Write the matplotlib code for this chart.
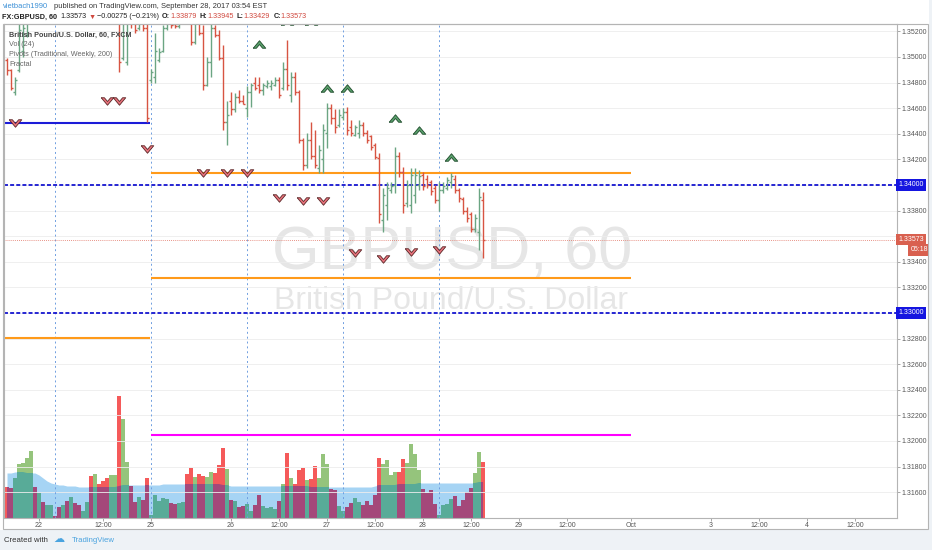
import matplotlib
matplotlib.use("Agg")
import matplotlib.pyplot as plt
import matplotlib.transforms as mtransforms
from matplotlib.patches import Rectangle
from matplotlib.path import Path
import numpy as np

plt.rcParams['font.family'] = ['Liberation Sans', 'DejaVu Sans']

# GBPUSD 60 min bars, bar 0 = first bar of the Sep 25 session
first_bar = -36
opens = [1.3498, 1.3490, 1.3473, 1.3490, 1.3505, 1.3517, 1.3533, 1.3556, 1.3548, 1.3564,
         1.3556, 1.3568, 1.3572, 1.3568, 1.3560, 1.3568, 1.3564, 1.3576, 1.3568, 1.3560,
         1.3564, 1.3568, 1.3545, 1.3552, 1.3541, 1.3535, 1.3530, 1.3541, 1.3548, 1.3499,
         1.3496, 1.3535, 1.3529, 1.3523, 1.3530, 1.3523, 1.3482, 1.3484, 1.3498, 1.3505,
         1.3523, 1.3529, 1.3526, 1.3524, 1.3532, 1.3541, 1.3533, 1.3512, 1.3529, 1.3519,
         1.3478, 1.3496, 1.3523, 1.3517, 1.3499, 1.3449, 1.3466, 1.3459, 1.3469, 1.3466,
         1.3460, 1.3473, 1.3480, 1.3478, 1.3474, 1.3477, 1.3477, 1.3478, 1.3482, 1.3476,
         1.3491, 1.3470, 1.3484, 1.3473, 1.3435, 1.3416, 1.3435, 1.3423, 1.3413, 1.3420,
         1.3441, 1.3460, 1.3452, 1.3447, 1.3453, 1.3457, 1.3445, 1.3439, 1.3441, 1.3447,
         1.3441, 1.3438, 1.3431, 1.3421, 1.3373, 1.3384, 1.3396, 1.3400, 1.3423, 1.3410,
         1.3386, 1.3384, 1.3392, 1.3400, 1.3408, 1.3405, 1.3402, 1.3398, 1.3388, 1.3396,
         1.3398, 1.3402, 1.3405, 1.3396, 1.3389, 1.3380, 1.3377, 1.3366, 1.3363, 1.33879]
highs = [1.3499, 1.3491, 1.3484, 1.3529, 1.3529, 1.3537, 1.3560, 1.3564, 1.3568, 1.3568,
         1.3572, 1.3576, 1.3574, 1.3570, 1.3572, 1.3572, 1.3580, 1.3580, 1.3570, 1.3568,
         1.3572, 1.3572, 1.3560, 1.3556, 1.3545, 1.3538, 1.3545, 1.3552, 1.3552, 1.3537,
         1.3541, 1.3538, 1.3533, 1.3535, 1.3534, 1.3526, 1.3491, 1.3519, 1.3507, 1.3525,
         1.3533, 1.3533, 1.3529, 1.3535, 1.3545, 1.3545, 1.3537, 1.3533, 1.3533, 1.3525,
         1.3500, 1.3533, 1.3525, 1.3521, 1.3509, 1.3466, 1.3473, 1.3472, 1.3474, 1.3470,
         1.3477, 1.3480, 1.3484, 1.3484, 1.3480, 1.3482, 1.3482, 1.3484, 1.3484, 1.3496,
         1.3513, 1.3488, 1.3488, 1.3474, 1.3437, 1.3441, 1.3449, 1.3443, 1.3431, 1.3448,
         1.3464, 1.3463, 1.3459, 1.3459, 1.3460, 1.3461, 1.3451, 1.3447, 1.3451, 1.3449,
         1.3443, 1.3439, 1.3433, 1.3425, 1.3398, 1.3402, 1.3402, 1.3430, 1.3426, 1.3414,
         1.3404, 1.3413, 1.3413, 1.3412, 1.3410, 1.3408, 1.3404, 1.3400, 1.3402, 1.3402,
         1.3406, 1.3409, 1.3408, 1.3398, 1.3391, 1.3383, 1.3379, 1.3377, 1.3398, 1.33945]
lows = [1.3486, 1.3474, 1.3470, 1.3488, 1.3500, 1.3516, 1.3529, 1.3545, 1.3545, 1.3552,
        1.3554, 1.3566, 1.3564, 1.3556, 1.3559, 1.3560, 1.3562, 1.3564, 1.3556, 1.3559,
        1.3562, 1.3541, 1.3538, 1.3537, 1.3533, 1.3529, 1.3527, 1.3537, 1.3488, 1.3498,
        1.3494, 1.3523, 1.3519, 1.3521, 1.3520, 1.3449, 1.3480, 1.3480, 1.3496, 1.3504,
        1.3521, 1.3523, 1.3523, 1.3523, 1.3529, 1.3527, 1.3509, 1.3510, 1.3517, 1.3474,
        1.3477, 1.3484, 1.3516, 1.3498, 1.3443, 1.3431, 1.3455, 1.3457, 1.3464, 1.3463,
        1.3453, 1.3461, 1.3474, 1.3472, 1.3470, 1.3476, 1.3474, 1.3477, 1.3468, 1.3474,
        1.3474, 1.3465, 1.3470, 1.3433, 1.3412, 1.3413, 1.3420, 1.3413, 1.3409, 1.3409,
        1.3429, 1.3448, 1.3441, 1.3445, 1.3451, 1.3439, 1.3438, 1.3438, 1.3437, 1.3438,
        1.3433, 1.3427, 1.3420, 1.3370, 1.3363, 1.3373, 1.3394, 1.3394, 1.3406, 1.3378,
        1.3383, 1.3378, 1.3386, 1.3396, 1.3396, 1.3398, 1.3392, 1.3386, 1.3380, 1.3394,
        1.3396, 1.3398, 1.3394, 1.3387, 1.3377, 1.3371, 1.3363, 1.3363, 1.3349, 1.33429]
closes = [1.3490, 1.3476, 1.3482, 1.3521, 1.3523, 1.3533, 1.3556, 1.3548, 1.3564, 1.3556,
          1.3568, 1.3572, 1.3568, 1.3560, 1.3568, 1.3564, 1.3576, 1.3568, 1.3560, 1.3564,
          1.3568, 1.3545, 1.3552, 1.3541, 1.3535, 1.3530, 1.3541, 1.3548, 1.3496, 1.3529,
          1.3535, 1.3527, 1.3521, 1.3530, 1.3523, 1.3452, 1.3488, 1.3505, 1.3504, 1.3523,
          1.3529, 1.3525, 1.3524, 1.3532, 1.3541, 1.3533, 1.3512, 1.3529, 1.3519, 1.3478,
          1.3496, 1.3523, 1.3517, 1.3499, 1.3449, 1.3455, 1.3459, 1.3469, 1.3466, 1.3463,
          1.3473, 1.3478, 1.3476, 1.3474, 1.3478, 1.3480, 1.3480, 1.3482, 1.3470, 1.3491,
          1.3478, 1.3484, 1.3473, 1.3435, 1.3416, 1.3435, 1.3423, 1.3416, 1.3427, 1.3443,
          1.3460, 1.3452, 1.3445, 1.3455, 1.3457, 1.3443, 1.3441, 1.3445, 1.3447, 1.3441,
          1.3435, 1.3430, 1.3422, 1.3377, 1.3392, 1.3398, 1.3399, 1.3423, 1.3410, 1.3384,
          1.3400, 1.3408, 1.3408, 1.3407, 1.3399, 1.3400, 1.3395, 1.3388, 1.3396, 1.3399,
          1.3404, 1.3407, 1.3396, 1.3390, 1.3380, 1.3374, 1.3366, 1.3374, 1.3391, 1.33573]
volumes = [31, 30, 40, 54, 55, 60, 67, 31, 25, 16,
           13, 13, 2, 11, 13, 17, 21, 15, 13, 7,
           16, 42, 44, 34, 37, 40, 43, 43, 122, 99,
           56, 32, 16, 21, 18, 40, 3, 23, 17, 20,
           19, 15, 14, 15, 16, 44, 50, 41, 44, 42,
           41, 46, 45, 53, 70, 49, 18, 17, 11, 12,
           14, 7, 13, 23, 12, 10, 11, 9, 17, 34,
           65, 40, 34, 48, 50, 38, 39, 52, 40, 64,
           54, 29, 28, 12, 7, 11, 15, 20, 16, 13,
           17, 13, 23, 60, 54, 58, 43, 46, 46, 59,
           55, 74, 64, 48, 29, 25, 28, 14, 3, 13,
           14, 19, 22, 12, 18, 26, 30, 45, 66, 56]
vol_ma = [45, 45, 46, 46, 46, 45, 45, 45, 43, 40,
          37, 35, 34, 33, 33, 32, 32, 32, 31, 31,
          31, 31, 31, 31, 31, 31, 31, 31, 32, 33,
          33, 33, 33, 33, 33, 33, 33, 33, 33, 34,
          34, 34, 34, 34, 34, 34, 34, 34, 34, 34,
          34, 34, 34, 34, 33, 33, 32, 32, 32, 32,
          32, 32, 32, 32, 32, 32, 32, 32, 32, 32,
          32, 32, 32, 32, 32, 32, 31, 31, 31, 31,
          31, 31, 31, 31, 31, 31, 31, 31, 31, 31,
          31, 31, 32, 33, 33, 33, 33, 33, 34, 34,
          34, 34, 34, 35, 35, 35, 35, 35, 35, 35,
          35, 35, 35, 35, 35, 35, 35, 35, 36, 36]

# weekly pivots
prev_week_levels = [1.34484, 1.32805]
prev_week_colors = ['#1c1cd8', '#ff9a1a']
this_week_levels = [1.34094, 1.33273, 1.32047]
this_week_colors = ['#ff9a1a', '#ff9a1a', '#ff00ff']
week_start, week_end = 0, 120
round_levels = [1.34, 1.33]
last_price = 1.33573
countdown = '05:18'

# Bill Williams fractals
frac_dn_bar = [-34, -11, -8, -1, 13, 19, 24, 32, 38, 43, 51, 58, 65, 72]
frac_dn_px = [1.34484, 1.34656, 1.34656, 1.34281, 1.34094, 1.34094, 1.34094,
              1.33898, 1.33875, 1.33875, 1.33469, 1.33422, 1.33477, 1.33492]
frac_up_bar = [27, 34, 40, 44, 49, 61, 67, 75]
frac_up_px = [1.35102, 1.3528, 1.3528, 1.34758, 1.34758, 1.34523, 1.34430, 1.34219]

session_breaks = [-24, 0, 24, 48, 72]
tick_pos = [-28, -12, 0, 20, 32, 44, 56, 68, 80, 92, 104, 120, 140, 152, 164, 176]
tick_lbl = ['22', '12:00', '25', '26', '12:00', '27', '12:00', '28', '12:00',
            '29', '12:00', 'Oct', '3', '12:00', '4', '12:00']

W, H = 932, 550
def fp(x, y):
    # pixel -> figure fraction
    return x / W, 1 - y / H

fig = plt.figure(figsize=(9.32, 5.5), dpi=100, facecolor='white')
fig.patches.append(Rectangle((0, 0), 1, 20 / H, transform=fig.transFigure,
                             fc='#eef2f6', ec='none', zorder=0))
fig.patches.append(Rectangle(fp(929, 550), 3 / W, 1, transform=fig.transFigure,
                             fc='#eef2f6', ec='none', zorder=0))
fig.patches.append(Rectangle(fp(3, 529), 925 / W, 505 / H, transform=fig.transFigure,
                             fill=False, ec='#b4b4b4', lw=0.8, zorder=1))

rect = [4 / W, 1 - 518 / H, 893 / W, 494 / H]
ax_v = fig.add_axes(rect)
ax = fig.add_axes(rect, sharex=ax_v)
ax.patch.set_alpha(0)

x = np.arange(first_bar, first_bar + len(opens))
o, h, l, c = map(np.array, (opens, highs, lows, closes))
up = c >= o

# volume pane with 24-bar average drawn behind
area = ax_v.fill_between(x, 0, vol_ma, color='#a6d4f4', lw=0, zorder=1)
ax_v.bar(x, volumes, width=0.8, color=np.where(up, '#95c47c', '#f55a5a'), zorder=2)
dark = ax_v.bar(x, volumes, width=0.8, color=np.where(up, '#58ab98', '#a4487a'), zorder=3)
clip = area.get_paths()[0]
for b in dark:
    b.set_clip_path(clip, ax_v.transData)
ax_v.set_ylim(0, 494)
ax_v.axis('off')

# watermark
ax.text(0.502, 0.535, 'GBPUSD, 60', transform=ax.transAxes, ha='center', va='center',
        fontsize=44, color='#e6e6e6', zorder=0)
ax.text(0.5, 0.44, 'British Pound/U.S. Dollar', transform=ax.transAxes, ha='center',
        va='center', fontsize=23, color='#e6e6e6', zorder=0)

# session breaks
for s in session_breaks:
    ax.axvline(s, color='#6f9ee0', lw=0.7, ls=(0, (2, 3)), zorder=1)

# pivots
for lv, col in zip(prev_week_levels, prev_week_colors):
    ax.hlines(lv, -40, week_start - 0.3, color=col, lw=1.5, zorder=2)
for lv, col in zip(this_week_levels, this_week_colors):
    ax.hlines(lv, week_start, week_end, color=col, lw=1.5, zorder=2)
for lv in round_levels:
    ax.axhline(lv, color='#1515d0', lw=1.3, ls=(0, (2.2, 1.2)), zorder=2)
ax.axhline(last_price, color='#e07060', lw=0.6, ls=(0, (1, 1.5)), zorder=2)

# OHLC bars
cols = np.where(up, '#6ba583', '#d75442')
ax.vlines(x, l, h, colors=cols, lw=1.0, zorder=3)
ax.hlines(o, x - 0.45, x, colors=cols, lw=1.0, zorder=3)
ax.hlines(c, x, x + 0.45, colors=cols, lw=1.0, zorder=3)

# fractal chevrons
dn = Path([(-1, 0.6), (0, -0.6), (1, 0.6), (0.5, 0.6), (0, 0.0), (-0.5, 0.6), (-1, 0.6)])
upm = Path([(-1, -0.6), (0, 0.6), (1, -0.6), (0.5, -0.6), (0, 0.0), (-0.5, -0.6), (-1, -0.6)])
ax.plot(frac_dn_bar, frac_dn_px, ls='none', marker=dn, ms=9, mfc='#e8727c', mec='#5a2626',
        mew=0.6, zorder=4)
ax.plot(frac_up_bar, frac_up_px, ls='none', marker=upm, ms=9, mfc='#5aa06c', mec='#1d4a2a',
        mew=0.6, zorder=4)

ax.set_xlim(-36.75, 186.5)
ax.set_ylim(1.313984, 1.352578)
ax.yaxis.tick_right()
yt = np.arange(1.316, 1.3525, 0.002)
# labels hidden under the price boxes are left blank
hidden = round_levels + [1.336]
ylbl = ['' if any(abs(v - hv) < 1e-6 for hv in hidden) else '%.5f' % v for v in yt]
ax.set_yticks(yt, ylbl)
ax.set_xticks(tick_pos, tick_lbl)
ax.tick_params(axis='y', length=2, width=0.6, color='#999', labelcolor='#555',
               labelsize=5, pad=1)
ax.tick_params(axis='x', length=2, width=0.6, color='#999', labelcolor='#555',
               labelsize=5, pad=1)
ax.grid(axis='y', color='#ededed', lw=0.6, zorder=0)
ax.set_axisbelow(True)
for sp in ax.spines.values():
    sp.set_color('#b4b4b4')
    sp.set_linewidth(0.8)

# price scale labels
trans = mtransforms.blended_transform_factory(ax.transAxes, ax.transData)
for lv in round_levels:
    ax.text(1.0015, lv, '%.5f' % lv, transform=trans, ha='left', va='center', fontsize=5,
            color='white', clip_on=False, zorder=10,
            bbox=dict(boxstyle='square,pad=0.3', fc='#1515e0', ec='none'))
ax.text(1.0015, last_price, '%.5f' % last_price, transform=trans, ha='left', va='center',
        fontsize=5, color='white', clip_on=False, zorder=10,
        bbox=dict(boxstyle='square,pad=0.3', fc='#d9604f', ec='none'))
ax.annotate(countdown, xy=(1.0345, last_price), xycoords=trans, xytext=(0, -7.4),
            textcoords='offset points', ha='right', va='center', fontsize=5, color='white',
            annotation_clip=False, zorder=10,
            bbox=dict(boxstyle='square,pad=0.3', fc='#d9604f', ec='none'))

# legend lines in the pane
fig.text(*fp(9, 35), 'British Pound/U.S. Dollar, 60, FXCM', fontsize=5.2, color='#444',
         weight='bold', va='center')
for yy, s in [(44, 'Vol (24)'), (54, 'Pivots (Traditional, Weekly, 200)'), (64, 'Fractal')]:
    fig.text(*fp(9, yy), s, fontsize=5.2, color='#666', va='center')

# header
fig.text(*fp(3, 6), 'vietbach1990', fontsize=5.4, color='#3a8fd6', va='center')
fig.text(*fp(54, 6), 'published on TradingView.com, September 28, 2017 03:54 EST',
         fontsize=5.4, color='#333', va='center')

# second header line: pieces laid out one after another
red = '#d0483e'
pieces = [('FX:GBPUSD, 60', '#222', 'bold', 3), ('1.33573', '#222', 'normal', 2),
          ('▼', red, 'normal', 2), ('\u22120.00275 (\u22120.21%)', '#222', 'normal', 3),
          ('O:', '#222', 'bold', 0), ('1.33879', red, 'normal', 3),
          ('H:', '#222', 'bold', 0), ('1.33945', red, 'normal', 3),
          ('L:', '#222', 'bold', 0), ('1.33429', red, 'normal', 3),
          ('C:', '#222', 'bold', 0), ('1.33573', red, 'normal', 0)]
renderer = fig.canvas.get_renderer()
xx = 2.0
for s, col, wt, gap in pieces:
    t = fig.text(*fp(xx, 17), s, fontsize=5.2, color=col, weight=wt, va='center')
    xx += t.get_window_extent(renderer).width + gap

# footer
fig.text(*fp(4, 540), 'Created with', fontsize=5.6, color='#333', va='center')
fig.text(*fp(53, 539), '\u2601', fontsize=8, color='#4aa3df', va='center',
         family='DejaVu Sans')
fig.text(*fp(72, 540), 'TradingView', fontsize=5.6, color='#4aa3df', va='center')

fig.savefig('out.png', dpi=100)
